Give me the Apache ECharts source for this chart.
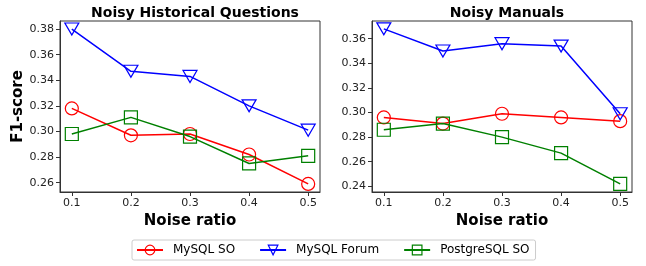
<!DOCTYPE html>
<html>
<head>
<meta charset="utf-8">
<script src="https://cdn.jsdelivr.net/npm/echarts@6/dist/echarts.min.js"></script>
<style>
html, body { margin: 0; padding: 0; background: #fff; }
#chart { width: 646px; height: 266px; }
</style>
</head>
<body>
<div id="chart"></div>
<script>
var noiseRatios = [0.1, 0.2, 0.3, 0.4, 0.5];
var seriesNames = ['MySQL SO', 'MySQL Forum', 'PostgreSQL SO'];

// Noisy Historical Questions
var histMysqlSO = [0.318, 0.297, 0.298, 0.282, 0.259];
var histMysqlForum = [0.380, 0.347, 0.343, 0.320, 0.301];
var histPostgreSO = [0.298, 0.311, 0.296, 0.275, 0.281];

// Noisy Manuals
var manMysqlSO = [0.296, 0.291, 0.299, 0.296, 0.293];
var manMysqlForum = [0.368, 0.350, 0.356, 0.354, 0.299];
var manPostgreSO = [0.286, 0.291, 0.280, 0.267, 0.242];

var leftTicks = [0.26, 0.28, 0.30, 0.32, 0.34, 0.36, 0.38];
var rightTicks = [0.24, 0.26, 0.28, 0.30, 0.32, 0.34, 0.36];

var colors = ['#ff0000', '#0000ff', '#008000'];
var symbols = ['circle', 'path://M0,0 L10,0 L5,9 Z', 'rect'];
var symbolSizes = [13, [14, 12], 13];

var font = 'DejaVu Sans';

function pairs(ys) {
	var out = [];
	for (var i = 0; i < noiseRatios.length; i++) {
		out.push([noiseRatios[i], ys[i]]);
	}
	return out;
}

function xAxisFor(idx) {
	return {
		type: 'value', gridIndex: idx, min: 0.08, max: 0.52,
		name: 'Noise ratio', nameLocation: 'middle', nameGap: 22,
		nameTextStyle: { fontFamily: font, fontWeight: 'bold', fontSize: 15, color: '#000' },
		axisLine: { show: true, lineStyle: { color: '#333', width: 1 } },
		axisTick: { show: true, length: 4, customValues: noiseRatios, lineStyle: { color: '#333' } },
		axisLabel: { customValues: noiseRatios, fontFamily: font, fontSize: 11, color: '#222', margin: 6,
			formatter: function(v) { return v.toFixed(1); } },
		splitLine: { show: false }
	};
}

function yAxisFor(idx, lo, hi, ticks, withName) {
	return {
		type: 'value', gridIndex: idx, min: lo, max: hi,
		name: withName ? 'F1-score' : '', nameLocation: 'middle', nameGap: 34,
		nameTextStyle: { fontFamily: font, fontWeight: 'bold', fontSize: 15, color: '#000' },
		axisLine: { show: true, lineStyle: { color: '#333', width: 1 } },
		axisTick: { show: true, length: 4, customValues: ticks, lineStyle: { color: '#333' } },
		axisLabel: { customValues: ticks, fontFamily: font, fontSize: 11, color: '#222', margin: 6,
			formatter: function(v) { return v.toFixed(2); } },
		splitLine: { show: false }
	};
}

function lineSeries(k, idx, ys) {
	return {
		name: seriesNames[k], type: 'line', xAxisIndex: idx, yAxisIndex: idx,
		data: pairs(ys),
		symbol: symbols[k], symbolSize: symbolSizes[k],
		lineStyle: { color: colors[k], width: 1.5 },
		itemStyle: { color: 'rgba(255,255,255,0)', borderColor: colors[k], borderWidth: 1.2, opacity: 1 },
		color: colors[k],
		z: 2 + k
	};
}

var legendItems = seriesNames.map(function(n, k) {
	return { name: n, itemStyle: { color: 'rgba(255,255,255,0)', borderColor: colors[k], borderWidth: 1.2 } };
});

var chart = echarts.init(document.getElementById('chart'));
var option = {
	animation: false,
	backgroundColor: '#fff',
	title: [
		{ text: 'Noisy Historical Questions', left: 190, top: 1, textAlign: 'center',
			textStyle: { fontFamily: font, fontWeight: 'bold', fontSize: 14, color: '#000' } },
		{ text: 'Noisy Manuals', left: 502, top: 1, textAlign: 'center',
			textStyle: { fontFamily: font, fontWeight: 'bold', fontSize: 14, color: '#000' } }
	],
	grid: [
		{ left: 60, top: 21, width: 260, height: 171, show: true, borderColor: '#333', borderWidth: 1 },
		{ left: 372, top: 21, width: 260, height: 171, show: true, borderColor: '#333', borderWidth: 1 }
	],
	xAxis: [xAxisFor(0), xAxisFor(1)],
	yAxis: [
		yAxisFor(0, 0.2527, 0.3863, leftTicks, true),
		yAxisFor(1, 0.2354, 0.3744, rightTicks, false)
	],
	legend: {
		data: legendItems,
		left: 132, top: 240,
		padding: [4, 6, 4, 4],
		itemGap: 24, itemWidth: 26, itemHeight: 12,
		borderColor: '#ccc', borderWidth: 1, borderRadius: 2,
		textStyle: { fontFamily: font, fontSize: 12, color: '#000', padding: [0, 0, 0, 5] }
	},
	series: [
		lineSeries(0, 0, histMysqlSO),
		lineSeries(1, 0, histMysqlForum),
		lineSeries(2, 0, histPostgreSO),
		lineSeries(0, 1, manMysqlSO),
		lineSeries(1, 1, manMysqlForum),
		lineSeries(2, 1, manPostgreSO)
	]
};
chart.setOption(option);
</script>
</body>
</html>
